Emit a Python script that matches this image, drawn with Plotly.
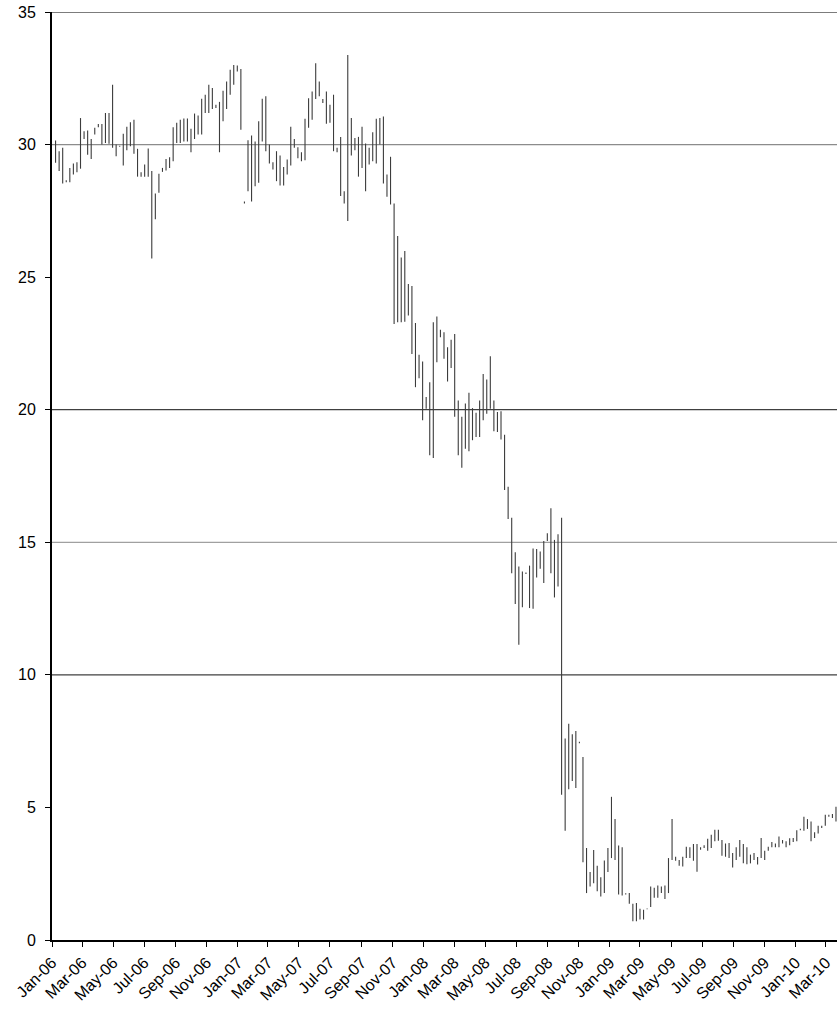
import pandas as pd
import plotly.graph_objects as go

# Weekly bars, first week ending 2006-01-08
start_date = "2006-01-08"
n_weeks = 220

high = [
    30.15, 29.75, 29.88, 28.65, 29.12, 29.29, 29.33, 31.00, 30.50, 30.53,
    30.21, 30.63, 30.78, 30.78, 31.19, 31.19, 32.26, 30.00, 29.96, 30.41,
    30.67, 30.84, 30.94, 29.84, 28.96, 29.25, 29.85, 29.00, 28.15, 28.90,
    29.12, 29.46, 29.52, 30.65, 30.82, 30.94, 30.98, 30.98, 30.60, 31.17,
    31.10, 31.73, 31.88, 32.26, 32.13, 31.50, 31.61, 32.03, 32.38, 32.82,
    33.00, 32.98, 32.85, 27.85, 30.16, 30.34, 30.12, 30.88, 31.73, 31.82,
    30.00, 29.33, 29.75, 29.59, 29.15, 29.44, 30.67, 30.21, 29.90, 29.71,
    30.97, 31.75, 32.00, 33.07, 32.38, 31.72, 32.00, 31.50, 31.88, 29.88,
    30.29, 28.24, 33.38, 31.00, 30.25, 30.29, 30.67, 30.04, 29.88, 30.46,
    30.97, 31.00, 31.06, 28.87, 29.54, 27.78, 26.55, 25.74, 25.99, 24.74,
    24.67, 23.27, 22.07, 21.82, 20.48, 21.04, 23.30, 23.52, 23.02, 22.92,
    22.36, 22.64, 22.86, 20.35, 19.73, 20.23, 20.64, 20.06, 19.89, 20.35,
    21.35, 21.14, 22.02, 20.35, 19.91, 19.94, 19.06, 17.09, 15.93, 14.62,
    14.09, 13.90, 13.86, 14.12, 14.77, 14.75, 14.65, 15.05, 15.34, 16.28,
    15.09, 15.30, 15.93, 7.60, 8.16, 7.76, 7.88, 7.48, 6.90, 3.47,
    2.56, 3.39, 2.80, 2.37, 3.00, 3.47, 5.40, 4.56, 3.56, 3.50,
    1.76, 1.77, 1.37, 1.40, 1.18, 1.14, 1.19, 2.02, 1.97, 2.06,
    2.02, 2.06, 3.09, 4.56, 3.14, 3.02, 3.14, 3.52, 3.50, 3.62,
    3.62, 3.50, 3.57, 3.82, 3.97, 4.16, 4.16, 3.77, 3.64, 3.66,
    3.28, 3.50, 3.77, 3.62, 3.50, 3.22, 3.28, 3.13, 3.85, 3.37,
    3.52, 3.70, 3.64, 3.90, 3.77, 3.72, 3.84, 3.85, 4.14, 4.20,
    4.65, 4.56, 4.47, 4.06, 4.31, 4.31, 4.72, 4.72, 4.75, 5.03,
]

low = [
    29.31, 29.00, 28.53, 28.58, 28.58, 28.87, 28.96, 29.09, 30.21, 29.62,
    29.46, 30.38, 30.65, 30.00, 30.06, 30.03, 29.88, 29.56, 29.92, 29.21,
    29.79, 29.94, 29.65, 28.79, 28.79, 28.79, 28.79, 25.70, 27.18, 28.18,
    28.97, 29.02, 29.12, 29.37, 30.06, 30.06, 30.12, 30.12, 29.71, 30.21,
    30.38, 30.38, 31.19, 31.19, 31.34, 31.38, 29.71, 30.88, 31.34, 31.88,
    32.26, 32.76, 30.56, 27.78, 28.24, 27.85, 28.43, 28.56, 30.12, 29.75,
    29.29, 29.06, 28.62, 28.46, 28.46, 28.87, 29.21, 29.88, 29.48, 29.37,
    29.41, 30.63, 30.94, 31.72, 31.82, 31.57, 30.79, 30.82, 29.75, 29.71,
    28.06, 27.78, 27.12, 29.59, 29.79, 28.79, 29.12, 28.24, 29.25, 29.37,
    29.29, 30.00, 28.53, 28.03, 27.74, 23.23, 23.30, 23.30, 23.32, 23.55,
    22.10, 20.85, 21.19, 19.60, 20.04, 18.28, 18.18, 21.79, 22.73, 21.92,
    21.06, 21.57, 19.73, 18.28, 17.81, 18.53, 18.43, 18.85, 18.97, 18.97,
    19.60, 19.85, 20.04, 19.19, 19.16, 18.88, 16.97, 15.88, 13.83, 12.67,
    11.14, 12.55, 13.80, 12.52, 12.49, 13.67, 14.00, 13.46, 15.05, 13.83,
    12.92, 13.33, 5.48, 4.12, 5.69, 6.00, 5.73, 7.42, 2.93, 1.77,
    2.02, 2.14, 1.84, 1.64, 1.77, 2.56, 3.09, 3.02, 1.72, 1.68,
    1.72, 1.37, 0.71, 0.71, 0.77, 0.77, 1.16, 1.24, 1.59, 1.59,
    1.77, 1.55, 1.77, 3.02, 2.99, 2.80, 2.77, 3.09, 3.09, 2.99,
    2.57, 3.40, 3.47, 3.37, 3.47, 3.72, 3.74, 3.18, 3.14, 3.09,
    2.73, 3.02, 3.14, 2.89, 2.86, 2.89, 3.02, 2.85, 3.09, 3.02,
    3.37, 3.50, 3.50, 3.50, 3.64, 3.50, 3.57, 3.70, 3.72, 4.14,
    4.12, 4.19, 3.72, 3.85, 4.02, 4.22, 4.31, 4.65, 4.60, 4.47,
]

dates = pd.date_range(start_date, periods=n_weeks, freq="7D")

grid_levels = [10, 15, 20, 30, 35]
grid_colors = ["#404040", "#a0a0a0", "#404040", "#8c8c8c", "#505050"]

bar_color = "#3c3c3c"

fig = go.Figure()
fig.add_trace(go.Ohlc(
    x=dates, open=low, high=high, low=low, close=low,
    tickwidth=0,
    increasing=dict(line=dict(color=bar_color, width=1.1)),
    decreasing=dict(line=dict(color=bar_color, width=1.1)),
    showlegend=False, hoverinfo="skip",
))

for lvl, col in zip(grid_levels, grid_colors):
    fig.add_hline(y=lvl, line=dict(color=col, width=1.3), layer="below")

font = dict(family="Arial, Liberation Sans, sans-serif", size=16, color="black")

fig.update_layout(
    width=837, height=1009,
    margin=dict(l=52, r=0, t=12, b=69),
    paper_bgcolor="white", plot_bgcolor="white",
    font=font,
    showlegend=False,
)
fig.update_xaxes(
    type="date",
    range=["2006-01-01", "2010-03-23"],
    tick0="2006-01-01", dtick="M2", tickformat="%b-%y",
    tickangle=-45,
    ticks="outside", ticklen=5, tickcolor="black", tickwidth=1,
    showline=True, linecolor="black", linewidth=2,
    showgrid=False, zeroline=False,
    rangeslider=dict(visible=False),
    tickfont=font,
)
fig.update_yaxes(
    range=[0, 35], tick0=0, dtick=5,
    ticks="outside", ticklen=5, tickcolor="black", tickwidth=1,
    showline=True, linecolor="black", linewidth=2,
    showgrid=False, zeroline=False,
    tickfont=font, ticklabelstandoff=6,
)

fig.write_html("out.html")
